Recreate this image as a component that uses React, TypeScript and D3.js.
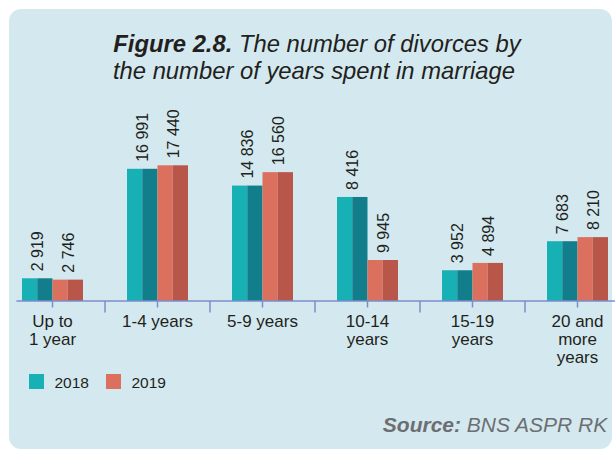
import React from "react";
import * as d3 from "d3";

// Categories (x axis) — multi-line labels
const categories = ["Up to 1 year", "1-4 years", "5-9 years", "10-14 years", "15-19 years", "20 and more years"];
const categoryLines = [["Up to", "1 year"], ["1-4 years"], ["5-9 years"], ["10-14", "years"], ["15-19", "years"], ["20 and", "more", "years"]];

const seriesNames = ["2018", "2019"];

// Bar heights as drawn in the reference picture (the 10-14 pair is drawn
// at heights that differ from its printed labels, so heights are read off the bars)
const values2018 = [2919, 16991, 14836, 13370, 3952, 7683];
const values2019 = [2746, 17440, 16560, 5270, 4894, 8210];

// Printed value labels
const labels2018 = ["2 919", "16 991", "14 836", "8 416", "3 952", "7 683"];
const labels2019 = ["2 746", "17 440", "16 560", "9 945", "4 894", "8 210"];

const titleBold = "Figure 2.8.";
const titleRest1 = " The number of divorces by";
const titleLine2 = "the number of years spent in marriage";
const sourceBold = "Source:";
const sourceRest = " BNS ASPR RK";

const W = 615;
const H = 449;
const FONT = "'Liberation Sans', Arial, Helvetica, sans-serif";
const TEXT = "#231f20";
const AXIS = "#7b8dcb";
const BG = "#d4e9ef";
const colorsLight = ["#17b0b4", "#db705f"];
const colorsDark = ["#137e8b", "#b8564a"];

export default function App() {
  const baseY = 301;
  const x = d3.scaleBand<string>().domain(categories).range([0, 630]).paddingInner(0).paddingOuter(0);
  const groupW = 61;
  const xs = d3.scaleBand<string>().domain(seriesNames).range([0, groupW]);
  const y = d3.scaleLinear().domain([0, 17440]).range([baseY, baseY - 135.7]);

  const series = [
    { name: seriesNames[0], values: values2018, labels: labels2018 },
    { name: seriesNames[1], values: values2019, labels: labels2019 },
  ];

  return (
    <div style={{ position: "absolute", left: 0, top: 0 }}>
      <svg width={W} height={H} style={{ display: "block" }} fontFamily={FONT}>
        <rect x={0} y={0} width={W} height={H} fill="#ffffff" />
        <rect x={9} y={9} width={603} height={440} rx={12} ry={12} fill={BG} />

        {/* Title */}
        <text x={317} y={52} textAnchor="middle" fontSize={23.8} fill={TEXT} fontStyle="italic">
          <tspan fontWeight="bold">{titleBold}</tspan>
          <tspan>{titleRest1}</tspan>
        </text>
        <text x={314} y={79} textAnchor="middle" fontSize={23.8} fill={TEXT} fontStyle="italic">
          {titleLine2}
        </text>

        {/* Bars */}
        {categories.map((c, i) => {
          const gx = (x(c) as number) + x.bandwidth() / 2 - groupW / 2;
          return (
            <g key={c}>
              {series.map((s, si) => {
                const bx = gx + (xs(s.name) as number);
                const bw = xs.bandwidth();
                const top = y(s.values[i]);
                const h = baseY - top;
                const cx = bx + bw / 2;
                return (
                  <g key={s.name}>
                    <rect x={bx} y={top} width={bw / 2} height={h} fill={colorsLight[si]} />
                    <rect x={bx + bw / 2} y={top} width={bw / 2} height={h} fill={colorsDark[si]} />
                    <text
                      transform={`translate(${cx + 6},${top - 7}) rotate(-90)`}
                      fontSize={16}
                      fill={TEXT}
                      textAnchor="start"
                    >
                      {s.labels[i]}
                    </text>
                  </g>
                );
              })}
            </g>
          );
        })}

        {/* Axis */}
        <line x1={16.5} x2={W} y1={baseY} y2={baseY} stroke={AXIS} strokeWidth={1.5} />
        {categories.map((c) => {
          const cx = (x(c) as number) + x.bandwidth() / 2;
          return <line key={"t" + c} x1={cx} x2={cx} y1={baseY} y2={baseY + 6.5} stroke={AXIS} strokeWidth={1.5} />;
        })}
        {categories.slice(1).map((c) => {
          const bx = x(c) as number;
          return <line key={"b" + c} x1={bx} x2={bx} y1={baseY} y2={baseY + 11.5} stroke={AXIS} strokeWidth={1.5} />;
        })}

        {/* Category labels */}
        {categories.map((c, i) => {
          const cx = (x(c) as number) + x.bandwidth() / 2;
          return (
            <text key={"l" + c} x={cx} y={326.7} textAnchor="middle" fontSize={17} fill={TEXT}>
              {categoryLines[i].map((ln, li) => (
                <tspan key={li} x={cx} dy={li === 0 ? 0 : 18.3}>
                  {ln}
                </tspan>
              ))}
            </text>
          );
        })}

        {/* Legend */}
        {seriesNames.map((n, i) => {
          const lx = [29, 106][i];
          return (
            <g key={"lg" + n}>
              <rect x={lx} y={374} width={15} height={15} fill={colorsLight[i]} />
              <text x={lx + 25.5} y={387.5} fontSize={15.5} fill={TEXT}>
                {n}
              </text>
            </g>
          );
        })}

        {/* Source */}
        <text x={607.3} y={431.7} textAnchor="end" fontSize={21} fill="#6d6e71" fontStyle="italic">
          <tspan fontWeight="bold">{sourceBold}</tspan>
          <tspan>{sourceRest}</tspan>
        </text>
      </svg>
    </div>
  );
}
